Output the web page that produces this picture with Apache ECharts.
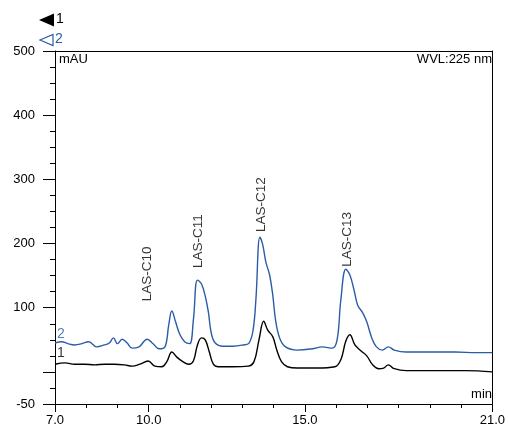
<!DOCTYPE html>
<html><head><meta charset="utf-8">
<script src="https://cdn.jsdelivr.net/npm/echarts@6/dist/echarts.min.js"></script>
<style>html,body{margin:0;padding:0;background:#fff}#c{width:508px;height:433px}</style>
</head><body><div id="c"></div>
<script>
// Trace 2 (blue)
const t2 = [7.00,7.22,7.41,7.63,7.86,8.08,8.33,8.58,8.74,8.87,9.00,9.15,9.31,9.47,9.69,9.95,10.14,10.33,10.52,10.64,10.74,10.86,10.99,11.15,11.31,11.43,11.56,11.69,11.81,11.91,12.00,12.13,12.38,12.70,13.02,13.21,13.34,13.43,13.56,13.65,13.75,13.87,13.97,14.06,14.19,14.38,14.76,15.24,15.55,15.87,16.03,16.15,16.31,16.44,16.57,16.69,16.85,16.98,17.14,17.29,17.48,17.67,17.86,18.24,18.88,19.83,20.46,21.00];
const v2 = [45,47,44,42,44,47,39,42,45,53,44,51,45,37,39,51,44,36,39,73,95,78,59,47,44,81,143,137,118,93,61,45,40,40,42,45,65,112,210,198,171,151,120,81,53,39,34,36,39,37,50,112,160,151,128,104,92,78,53,39,34,39,34,31,31,31,30,30];
// Trace 1 (black)
const t1 = [7.00,7.32,7.63,7.95,8.27,8.58,8.90,9.22,9.47,9.72,9.98,10.20,10.42,10.58,10.74,10.90,11.09,11.28,11.43,11.56,11.69,11.81,11.94,12.07,12.23,12.70,13.18,13.37,13.53,13.68,13.81,13.97,14.10,14.25,14.44,14.76,15.39,15.96,16.15,16.31,16.44,16.60,16.79,16.98,17.17,17.36,17.52,17.67,17.86,18.24,19.20,20.14,21.00];
const v1 = [12,14,12,12,11,12,12,11,9,12,17,9,8,16,31,23,16,12,17,42,53,50,31,12,8,8,9,16,50,79,65,55,34,16,8,6,6,8,19,48,58,42,33,25,11,5,6,11,5,2,2,2,0];
// Peak annotations
const peakNames = ["LAS-C10","LAS-C11","LAS-C12","LAS-C13"];
const peakTimes = [9.97,11.6,13.6,16.36];
const peakLabelBase = [110,162,218,164];
// Trace labels
const traceNames = ["2","1"];
const traceLabelPos = [[7.19,59],[7.19,30]];
// Axis ticks
const yLabelValues = [-50,100,200,300,400,500];
const yMajorTicks = [-50,0,100,200,300,400,500];
const xLabelValues = [7,10,15,21];

const BLUE = '#2b5ca8';
const FONT = 'Liberation Sans';

const chart = echarts.init(document.getElementById('c'), null, {renderer:'canvas'});
const zip = (a,b)=>a.map((x,i)=>[x,b[i]]);

chart.setOption({
  animation:false,
  backgroundColor:'#fff',
  textStyle:{fontFamily:FONT},
  grid:{left:55,right:11,top:51,bottom:29},
  xAxis:[
    {type:'value',position:'bottom',min:7,max:21,
     axisLine:{show:true,onZero:false,lineStyle:{color:'#000',width:1}},
     axisTick:{show:true,customValues:xLabelValues,length:8,lineStyle:{color:'#000'}},
     axisLabel:{customValues:xLabelValues,formatter:v=>v.toFixed(1),color:'#000',fontSize:13,fontFamily:FONT,margin:10,showMinLabel:true,showMaxLabel:true},
     splitLine:{show:false}},
    {type:'value',position:'bottom',min:7,max:21,interval:1,
     axisLine:{show:false,onZero:false},
     axisTick:{show:true,length:4,lineStyle:{color:'#000'}},
     axisLabel:{show:false},splitLine:{show:false}},
    {type:'value',position:'top',min:7,max:21,
     axisLine:{show:true,onZero:false,lineStyle:{color:'#000',width:1}},
     axisTick:{show:false},axisLabel:{show:false},splitLine:{show:false}}
  ],
  yAxis:[
    {type:'value',position:'left',min:-50,max:500,
     axisLine:{show:true,onZero:false,lineStyle:{color:'#000',width:1}},
     axisTick:{show:true,customValues:yMajorTicks,length:12,lineStyle:{color:'#000'}},
     axisLabel:{customValues:yLabelValues,color:'#000',fontSize:13,fontFamily:FONT,margin:20,showMinLabel:true,showMaxLabel:true},
     splitLine:{show:false}},
    {type:'value',position:'left',min:-50,max:500,interval:25,
     axisLine:{show:false,onZero:false},
     axisTick:{show:true,length:5,lineStyle:{color:'#000'}},
     axisLabel:{show:false},splitLine:{show:false}},
    {type:'value',position:'right',min:-50,max:500,
     axisLine:{show:true,onZero:false,lineStyle:{color:'#000',width:1}},
     axisTick:{show:false},axisLabel:{show:false},splitLine:{show:false}}
  ],
  series:[
    {type:'line',name:'2',xAxisIndex:0,yAxisIndex:0,data:zip(t2,v2),smooth:0.4,showSymbol:false,
     lineStyle:{color:BLUE,width:1.4},itemStyle:{color:BLUE},z:3},
    {type:'line',name:'1',xAxisIndex:0,yAxisIndex:0,data:zip(t1,v1),smooth:0.4,showSymbol:false,
     lineStyle:{color:'#000',width:1.4},itemStyle:{color:'#000'},z:4},
    {type:'scatter',xAxisIndex:0,yAxisIndex:0,symbolSize:0,silent:true,
     data:peakNames.map((n,i)=>({value:[peakTimes[i],peakLabelBase[i]],name:n})),
     label:{show:true,position:[0,0],rotate:90,align:'left',verticalAlign:'middle',
       formatter:p=>p.name,color:'#000',fontSize:13.5,fontFamily:FONT}},
    {type:'scatter',xAxisIndex:0,yAxisIndex:0,symbolSize:0,silent:true,
     data:traceNames.map((n,i)=>({value:traceLabelPos[i],name:n,
       label:{color:i===0?BLUE:'#000'}})),
     label:{show:true,position:[0,0],align:'center',verticalAlign:'middle',
       formatter:p=>p.name,fontSize:14,fontFamily:FONT}}
  ],
  graphic:[
    {type:'polygon',shape:{points:[[39,20],[54,13.5],[54,26.5]]},style:{fill:'#000'}},
    {type:'text',left:56,top:12,style:{text:'1',fill:'#000',font:'14px "Liberation Sans"'}},
    {type:'polygon',shape:{points:[[40,40],[53,34.5],[53,45.5]]},style:{fill:'none',stroke:BLUE,lineWidth:1.2}},
    {type:'text',left:55,top:32,style:{text:'2',fill:BLUE,font:'14px "Liberation Sans"'}},
    {type:'text',left:59,top:53,style:{text:'mAU',fill:'#000',font:'13px "Liberation Sans"'}},
    {type:'text',right:16,top:53,style:{text:'WVL:225 nm',fill:'#000',font:'13px "Liberation Sans"',textAlign:'right'}},
    {type:'text',right:16,top:388,style:{text:'min',fill:'#000',font:'13px "Liberation Sans"',textAlign:'right'}}
  ]
});
</script>
</body></html>
